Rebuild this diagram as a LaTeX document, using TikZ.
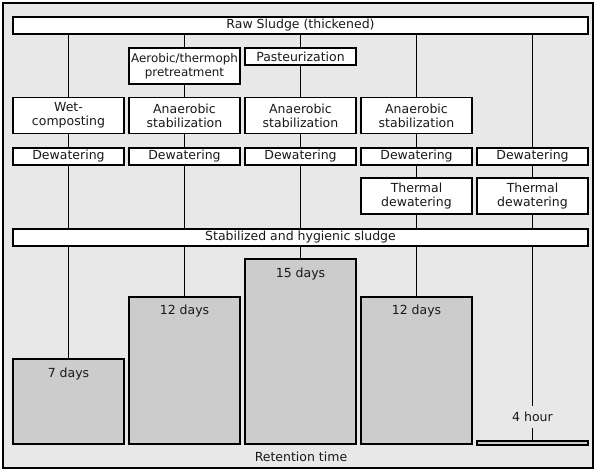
\documentclass[tikz,border=0pt]{standalone}
\usepackage{fontspec}
\setmainfont{DejaVu Sans}
\newcommand{\fsz}{\fontsize{12.5}{14}\selectfont}
\begin{document}
\begin{tikzpicture}[x=1pt,y=-1pt,
  box/.style={draw=black, fill=white, line width=1.3pt, minimum width=111pt, inner sep=0pt, align=center, font=\fsz, text=black!90},
  wide/.style={box, minimum width=575pt},
  one/.style={minimum height=17pt},
  two/.style={minimum height=36pt},
  bar/.style={draw=black, fill=gray!40, line width=1.3pt, minimum width=111pt, inner sep=0pt},
  txt/.style={font=\fsz, text=black!90, inner sep=1pt},
  conn/.style={line width=1.3pt}]
\useasboundingbox (0,0) rectangle (596,471);
\draw[fill=gray!18, line width=1.3pt] (3,3) rectangle (593,468);

% top and middle bars
\node[wide, one] (raw) at (300.5,25.5) {Raw Sludge (thickened)};
\node[wide, one] (stab) at (300.5,237.5) {Stabilized and hygienic sludge};

% column 1
\node[box, two] (wet) at (68.5,115.5) {Wet-\\composting};
\node[box, one] (d1) at (68.5,156.5) {Dewatering};
% column 2
\node[box, two, font=\fontsize{11.9}{13.5}\selectfont] (aer) at (184.5,66) {Aerobic/thermoph\\pretreatment};
\node[box, two] (an2) at (184.5,115.5) {Anaerobic\\stabilization};
\node[box, one] (d2) at (184.5,156.5) {Dewatering};
% column 3
\node[box, one] (past) at (300.5,56.5) {Pasteurization};
\node[box, two] (an3) at (300.5,115.5) {Anaerobic\\stabilization};
\node[box, one] (d3) at (300.5,156.5) {Dewatering};
% column 4
\node[box, two] (an4) at (416.5,115.5) {Anaerobic\\stabilization};
\node[box, one] (d4) at (416.5,156.5) {Dewatering};
\node[box, two] (th4) at (416.5,196) {Thermal\\dewatering};
% column 5
\node[box, one] (d5) at (532.5,156.5) {Dewatering};
\node[box, two] (th5) at (532.5,196) {Thermal\\dewatering};

% retention bars
\node[bar, minimum height=85pt] (b1) at (68.5,401.5) {};
\node[bar, minimum height=147pt] (b2) at (184.5,370.5) {};
\node[bar, minimum height=185pt] (b3) at (300.5,351.5) {};
\node[bar, minimum height=147pt] (b4) at (416.5,370.5) {};
\node[bar, minimum height=4pt] (b5) at (532.5,443) {};

\node[txt] (t1) at ([yshift=-16pt]b1.north) {7 days};
\node[txt] (t2) at ([yshift=-15pt]b2.north) {12 days};
\node[txt] (t3) at ([yshift=-16pt]b3.north) {15 days};
\node[txt] (t4) at ([yshift=-15pt]b4.north) {12 days};
\node[txt, inner sep=0pt, minimum height=22pt] (t5) at (532.5,417) {4 hour};
\node[txt] (ret) at (301,457) {Retention time};

% connectors column 1
\draw[conn] (raw.south -| wet.north) -- (wet.north);
\draw[conn] (wet.south) -- (d1.north);
\draw[conn] (d1.south) -- (stab.north -| d1.south);
\draw[conn] (stab.south -| b1.north) -- (b1.north);
% column 2
\draw[conn] (raw.south -| aer.north) -- (aer.north);
\draw[conn] (aer.south) -- (an2.north);
\draw[conn] (an2.south) -- (d2.north);
\draw[conn] (d2.south) -- (stab.north -| d2.south);
\draw[conn] (stab.south -| b2.north) -- (b2.north);
% column 3
\draw[conn] (raw.south -| past.north) -- (past.north);
\draw[conn] (past.south) -- (an3.north);
\draw[conn] (an3.south) -- (d3.north);
\draw[conn] (d3.south) -- (stab.north -| d3.south);
\draw[conn] (stab.south -| b3.north) -- (b3.north);
% column 4
\draw[conn] (raw.south -| an4.north) -- (an4.north);
\draw[conn] (an4.south) -- (d4.north);
\draw[conn] (d4.south) -- (th4.north);
\draw[conn] (th4.south) -- (stab.north -| th4.south);
\draw[conn] (stab.south -| b4.north) -- (b4.north);
% column 5
\draw[conn] (raw.south -| d5.north) -- (d5.north);
\draw[conn] (d5.south) -- (th5.north);
\draw[conn] (th5.south) -- (stab.north -| th5.south);
\draw[conn] (stab.south -| t5.north) -- (t5.north);
\draw[conn] (t5.south) -- (b5.north);
\end{tikzpicture}
\end{document}
